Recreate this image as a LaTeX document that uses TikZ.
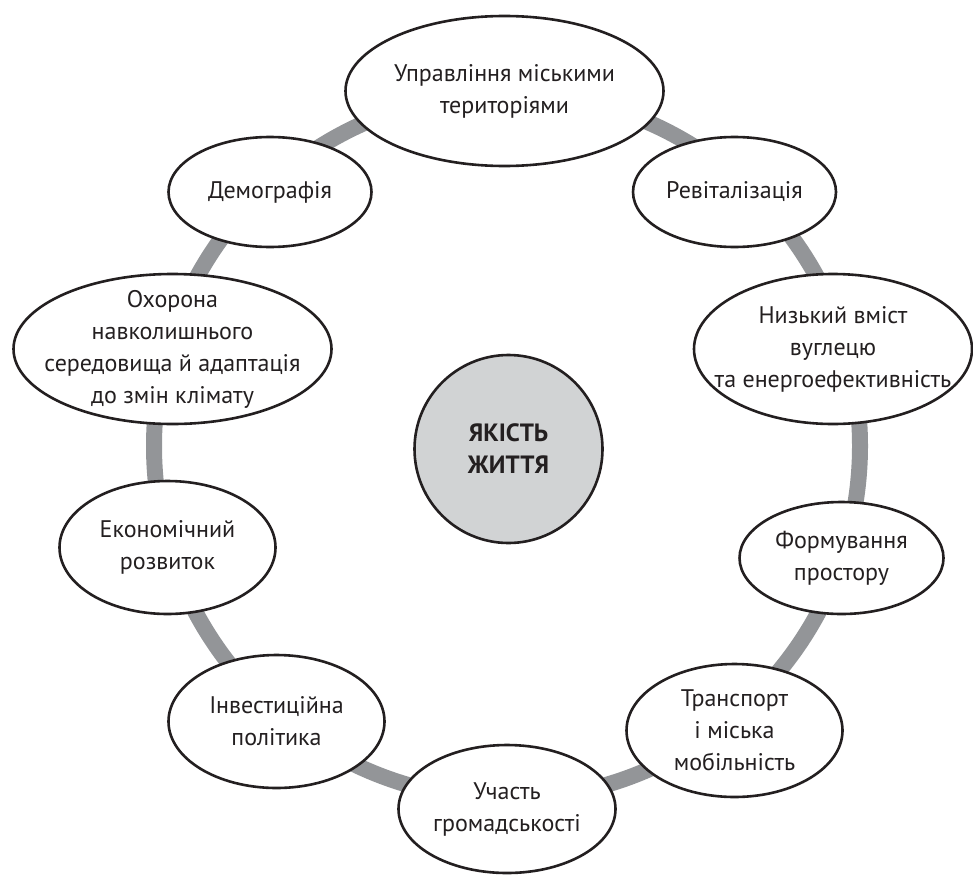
\documentclass[tikz,border=0pt]{standalone}
\usepackage{fontspec}
\setmainfont{PT Sans}
\usetikzlibrary{shapes.geometric}
\definecolor{ringgray}{HTML}{939598}
\definecolor{coregray}{HTML}{D1D3D4}
\definecolor{ink}{HTML}{231F20}
\begin{document}
\begin{tikzpicture}[x=1pt,y=-1pt,
  bub/.style={ellipse,draw=ink,line width=2.6pt,fill=white,inner sep=0pt},
  txt/.style={inner sep=0pt,align=center,text=ink,font=\fontsize{24}{32}\selectfont},
  core/.style={circle,draw=ink,line width=2.6pt,fill=coregray,inner sep=0pt,
    align=center,text=ink,font=\fontsize{25}{32}\selectfont\bfseries},
  ringline/.style={draw=ringgray,line width=16pt}]
\useasboundingbox (0,0) rectangle (973,875);
\coordinate (rc) at (507,446);
\draw[ringline] (rc) circle[radius=353];
\node[core,minimum size=188pt] (q) at (508.5,449) {ЯКІСТЬ\\ЖИТТЯ};
\node[bub,minimum width=318pt,minimum height=150pt] (upr) at (504.5,91) {};
\node[txt] (upr-t) at (upr.center) {Управління міськими\\територіями};
\node[bub,minimum width=203pt,minimum height=110pt] (rev) at (734.5,192) {};
\node[txt] (rev-t) at (rev.center) {Ревіталізація};
\node[bub,minimum width=278pt,minimum height=150pt] (nyz) at (833,349) {};
\node[txt] (nyz-t) at (nyz.center) {Низький вміст\\вуглецю\\та енергоефективність};
\node[bub,minimum width=204pt,minimum height=112pt] (for) at (841.5,558) {};
\node[txt] (for-t) at (for.center) {Формування\\простору};
\node[bub,minimum width=216pt,minimum height=133pt] (tra) at (734.5,730.5) {};
\node[txt] (tra-t) at (tra.center) {Транспорт\\і міська\\мобільність};
\node[bub,minimum width=217pt,minimum height=128pt] (uch) at (507,809) {};
\node[txt] (uch-t) at (uch.center) {Участь\\громадськості};
\node[bub,minimum width=216pt,minimum height=133pt] (inv) at (276.5,721.5) {};
\node[txt] (inv-t) at (inv.center) {Інвестиційна\\політика};
\node[bub,minimum width=216pt,minimum height=133pt] (eko) at (167.5,547.5) {};
\node[txt] (eko-t) at (eko.center) {Економічний\\розвиток};
\node[bub,minimum width=318pt,minimum height=150pt] (okh) at (172.5,349) {};
\node[txt] (okh-t) at (okh.center) {Охорона\\навколишнього\\середовища й адаптація\\до змін клімату};
\node[bub,minimum width=203pt,minimum height=110pt] (dem) at (270,192) {};
\node[txt] (dem-t) at (dem.center) {Демографія};
\end{tikzpicture}
\end{document}
